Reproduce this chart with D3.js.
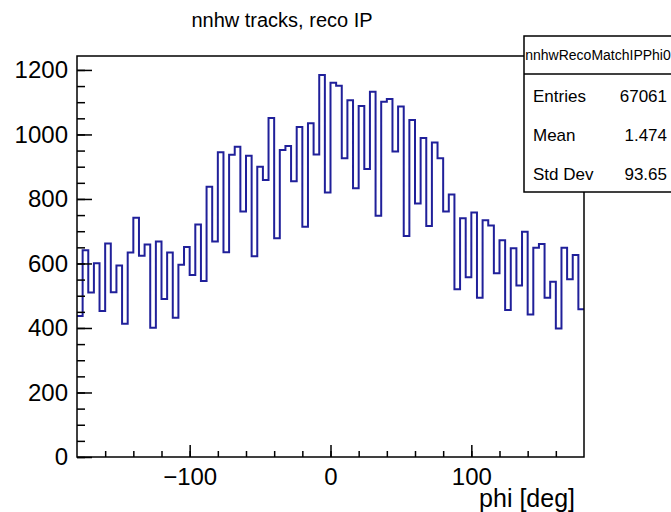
<!DOCTYPE html>
<html>
<head>
<meta charset="utf-8">
<script src="https://cdn.jsdelivr.net/npm/d3@7"></script>
<style>
  body { margin: 0; background: #fff; }
  svg text { font-family: "Liberation Sans", Arial, Helvetica, sans-serif; fill: #000; }
</style>
</head>
<body>
<div id="chart"></div>
<script>
// histogram: 90 bins of 4 deg between -180 and 180
const binLow = -180;
const binWidth = 4;
const counts = [
  437, 641, 510, 601, 453, 662, 511, 594, 413, 634, 742, 624, 659, 401, 668, 490, 634, 432, 596, 651, 564, 721,
  546, 838, 668, 945, 635, 937, 962, 761, 934, 622, 900, 859, 1051, 678, 952, 964, 855, 1023, 714, 1035, 938, 1184,
  820, 1160, 1151, 926, 1106, 833, 1088, 893, 1132, 748, 1101, 1110, 947, 1087, 685, 1045, 786, 989, 716, 975, 926,
  761, 814, 520, 740, 557, 758, 494, 734, 718, 570, 672, 456, 647, 532, 698, 442, 649, 660, 494, 543, 398, 649, 551, 626, 458
];

const xMajor = [-100, 0, 100];
const yMajor = [0, 200, 400, 600, 800, 1000, 1200];

const statsName = "nnhwRecoMatchIPPhi0";
const statsLabels = ["Entries", "Mean", "Std Dev"];
const statsValues = ["67061", "1.474", "93.65"];

const titleText = "nnhw tracks, reco IP";
const xTitle = "phi [deg]";

const W = 671, H = 512;
const margin = { top: 56, right: 87, bottom: 55, left: 77 };
const width = W - margin.left - margin.right;
const height = H - margin.top - margin.bottom;

const svg = d3.select("#chart").append("svg")
    .attr("width", W)
    .attr("height", H);

const g = svg.append("g")
    .attr("transform", "translate(" + margin.left + "," + margin.top + ")");

const x = d3.scaleLinear().domain([-180, 180]).range([0, width]);
const yMax = d3.max(counts) * 1.05;
const y = d3.scaleLinear().domain([0, yMax]).range([height, 0]);

// step outline of the histogram
const stepPts = [];
counts.forEach((c, i) => {
    const x0 = binLow + i * binWidth;
    stepPts.push([x(x0), y(c)]);
    stepPts.push([x(x0 + binWidth), y(c)]);
});
g.append("path")
    .attr("d", d3.line()(stepPts))
    .attr("fill", "none")
    .attr("stroke", "#20209a")
    .attr("stroke-width", 2);

// axes, ticks point inwards like ROOT
const yMinor = d3.range(0, yMax, 50);
const xMinor = d3.range(-160, 180, 20);

g.append("g").attr("class", "y-minor")
    .call(d3.axisLeft(y).tickValues(yMinor).tickSizeInner(-8).tickSizeOuter(0).tickFormat(""));
g.append("g").attr("class", "y-axis")
    .call(d3.axisLeft(y).tickValues(yMajor).tickSizeInner(-15).tickSizeOuter(0).tickPadding(9)
        .tickFormat(d3.format("d")));

g.append("g").attr("class", "x-minor")
    .attr("transform", "translate(0," + height + ")")
    .call(d3.axisBottom(x).tickValues(xMinor).tickSizeInner(-6).tickSizeOuter(0).tickFormat(""));
g.append("g").attr("class", "x-axis")
    .attr("transform", "translate(0," + height + ")")
    .call(d3.axisBottom(x).tickValues(xMajor).tickSizeInner(-12).tickSizeOuter(0).tickPadding(11)
        .tickFormat(d => d < 0 ? "\u2212" + Math.abs(d) : d));

g.selectAll(".domain").remove();
g.selectAll(".tick line").attr("stroke", "#000").attr("stroke-width", 1.5);
g.selectAll(".y-axis text, .x-axis text").attr("font-size", 24)
    .attr("font-family", "Liberation Sans, Arial, sans-serif");

// frame
g.append("rect")
    .attr("width", width)
    .attr("height", height)
    .attr("fill", "none")
    .attr("stroke", "#000")
    .attr("stroke-width", 1.5);

// titles
svg.append("text")
    .attr("x", 282).attr("y", 27)
    .attr("text-anchor", "middle")
    .attr("font-size", 20)
    .text(titleText);

svg.append("text")
    .attr("x", margin.left + width - 9).attr("y", 507)
    .attr("text-anchor", "end")
    .attr("font-size", 25)
    .text(xTitle);

// stats box
const box = svg.append("g").attr("transform", "translate(524,36)");
box.append("rect")
    .attr("width", 150).attr("height", 156)
    .attr("fill", "#fff").attr("stroke", "#000").attr("stroke-width", 1.5);
box.append("line")
    .attr("x1", 0).attr("x2", 150).attr("y1", 38).attr("y2", 38)
    .attr("stroke", "#000").attr("stroke-width", 1.5);
box.append("text")
    .attr("x", 74).attr("y", 24)
    .attr("text-anchor", "middle")
    .attr("font-size", 14)
    .text(statsName);

statsLabels.forEach((lab, i) => {
    box.append("text")
        .attr("x", 9).attr("y", 66 + i * 39)
        .attr("font-size", 17)
        .text(lab);
    box.append("text")
        .attr("x", 143).attr("y", 66 + i * 39)
        .attr("text-anchor", "end")
        .attr("font-size", 17)
        .text(statsValues[i]);
});
</script>
</body>
</html>
